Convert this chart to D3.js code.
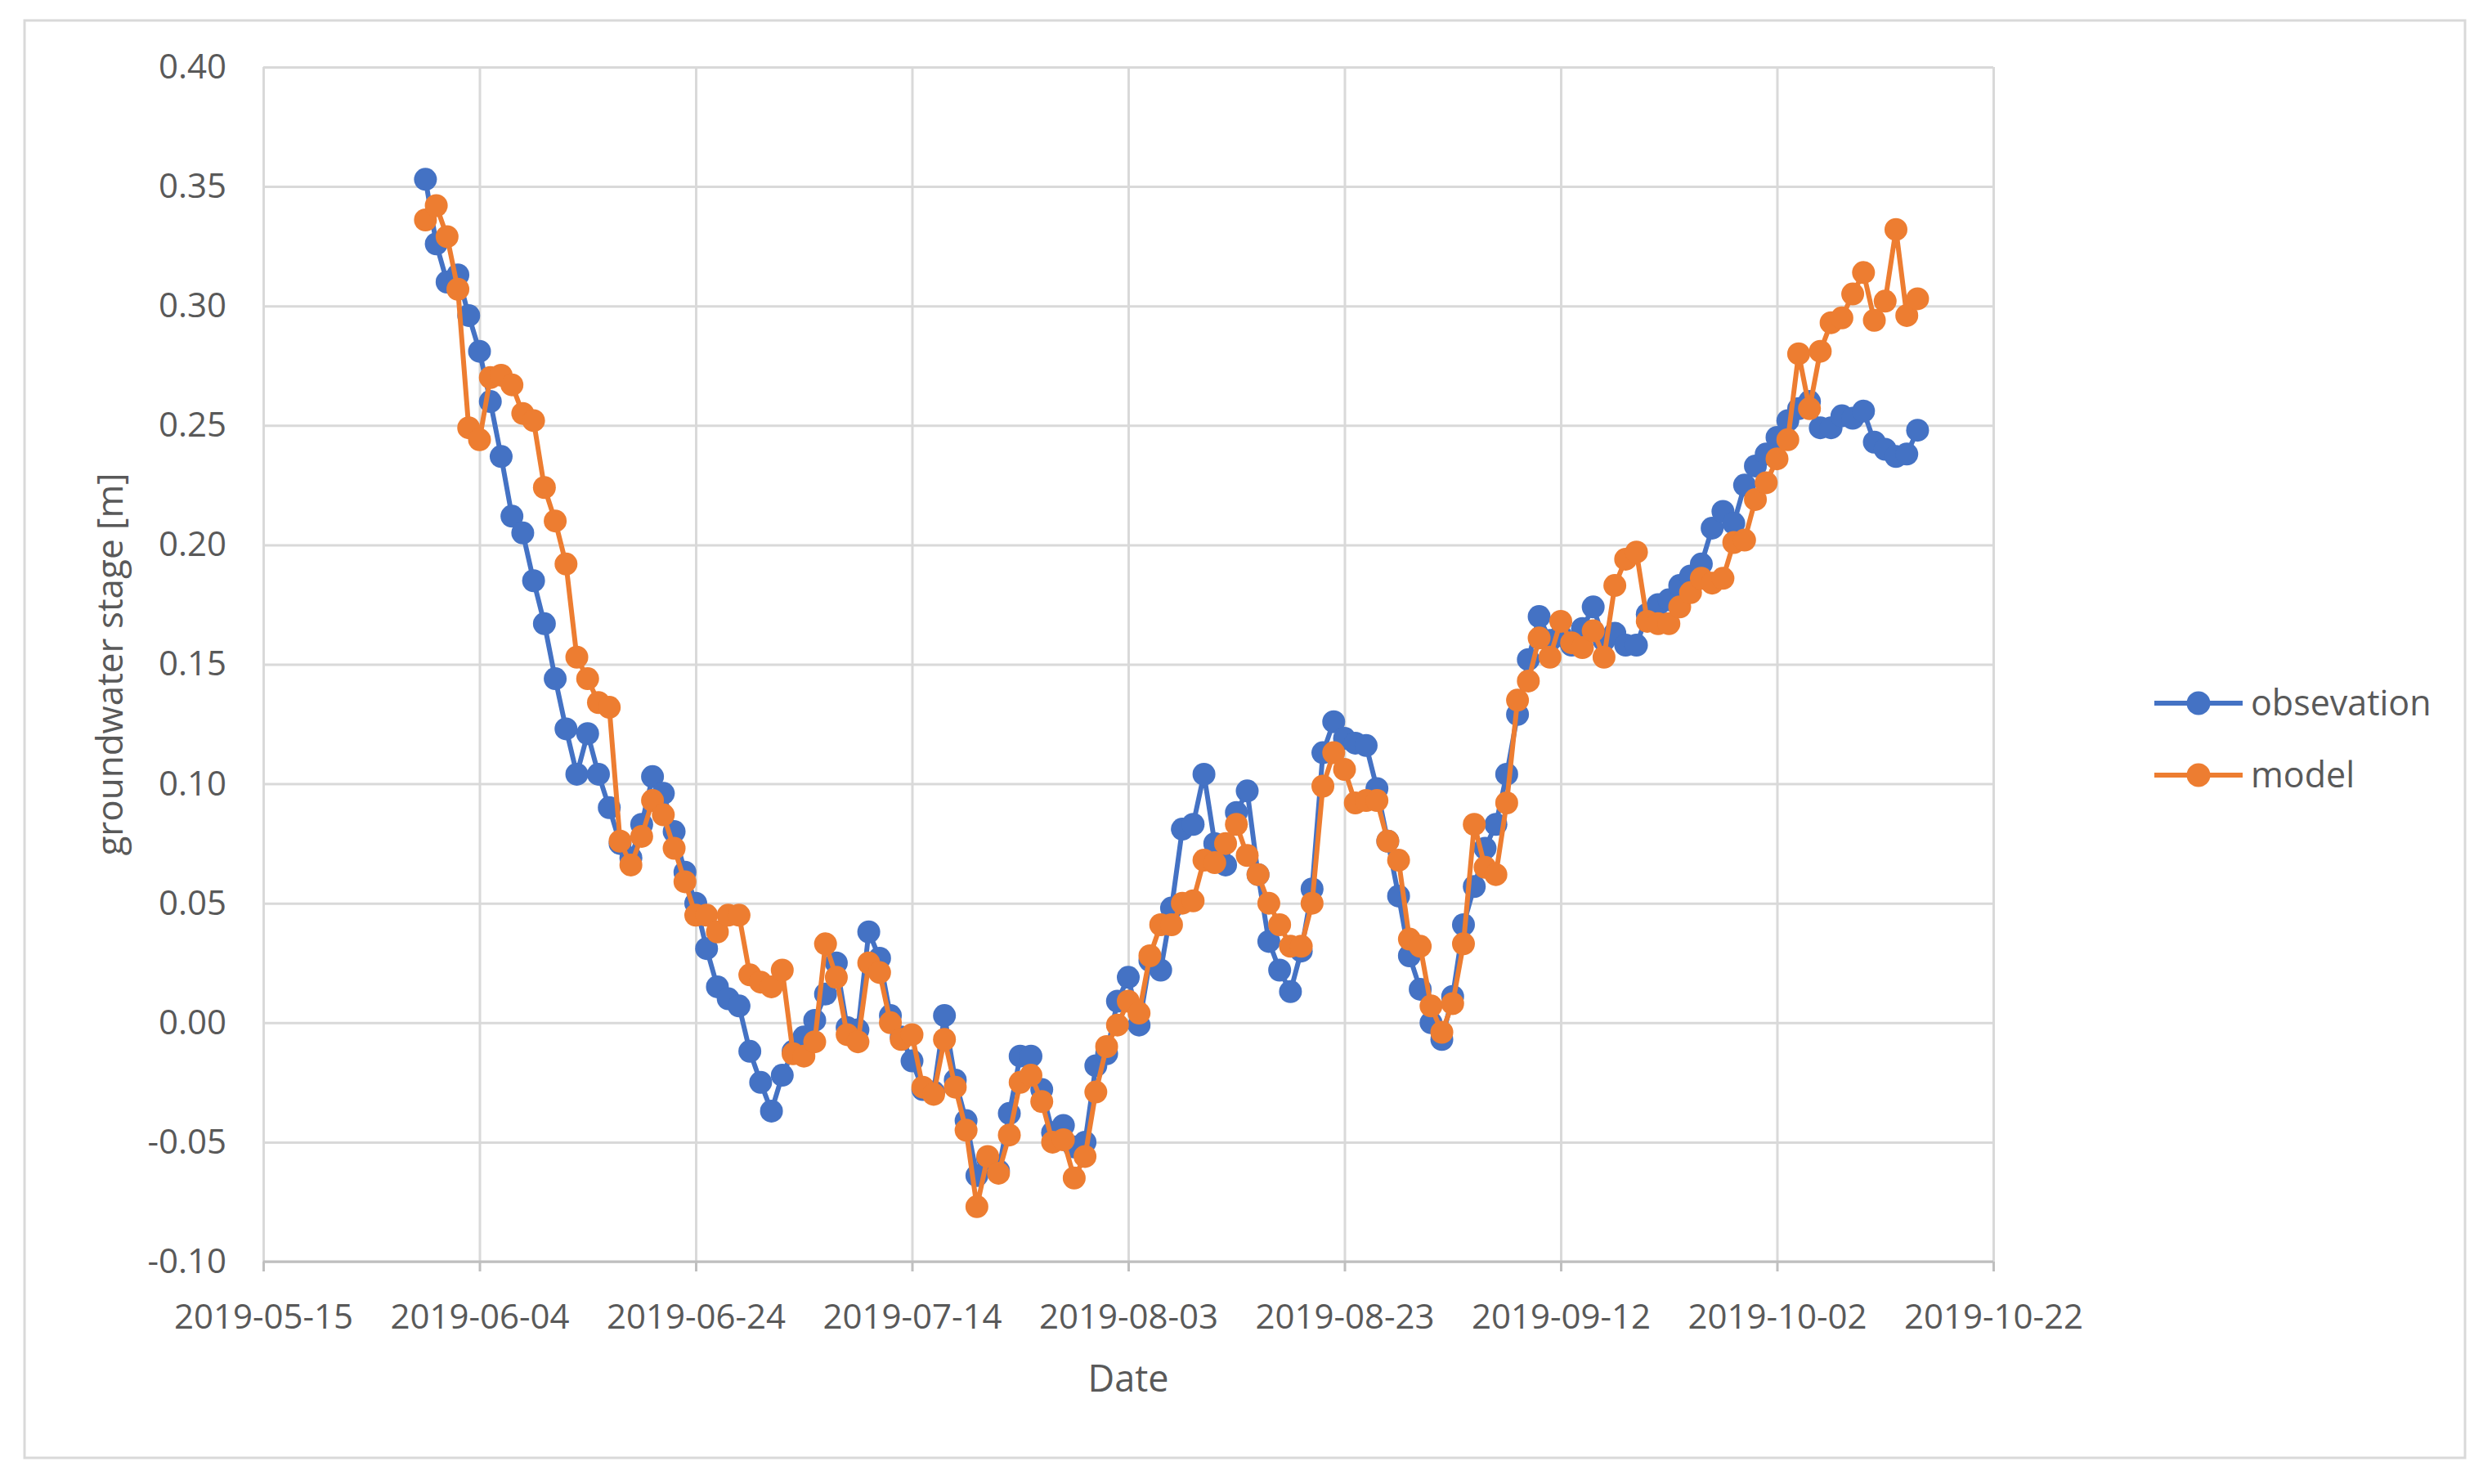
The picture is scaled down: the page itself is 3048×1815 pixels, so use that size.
<!DOCTYPE html>
<html>
<head>
<meta charset="utf-8">
<script src="https://cdn.jsdelivr.net/npm/d3@7"></script>
<style>
  html, body { margin: 0; padding: 0; background: #ffffff; }
  svg { display: block; }
  text { font-family: "Open Sans", "Noto Sans", sans-serif; fill: #595959; }
</style>
</head>
<body>
<svg id="chart" width="3048" height="1815"></svg>
<script>
// ---------- data ----------
const dates = [
  "2019-05-30","2019-05-31",
  "2019-06-01","2019-06-02","2019-06-03","2019-06-04","2019-06-05","2019-06-06","2019-06-07","2019-06-08","2019-06-09","2019-06-10",
  "2019-06-11","2019-06-12","2019-06-13","2019-06-14","2019-06-15","2019-06-16","2019-06-17","2019-06-18","2019-06-19","2019-06-20",
  "2019-06-21","2019-06-22","2019-06-23","2019-06-24","2019-06-25","2019-06-26","2019-06-27","2019-06-28","2019-06-29","2019-06-30",
  "2019-07-01","2019-07-02","2019-07-03","2019-07-04","2019-07-05","2019-07-06","2019-07-07","2019-07-08","2019-07-09","2019-07-10",
  "2019-07-11","2019-07-12","2019-07-13","2019-07-14","2019-07-15","2019-07-16","2019-07-17","2019-07-18","2019-07-19","2019-07-20",
  "2019-07-21","2019-07-22","2019-07-23","2019-07-24","2019-07-25","2019-07-26","2019-07-27","2019-07-28","2019-07-29","2019-07-30","2019-07-31",
  "2019-08-01","2019-08-02","2019-08-03","2019-08-04","2019-08-05","2019-08-06","2019-08-07","2019-08-08","2019-08-09","2019-08-10",
  "2019-08-11","2019-08-12","2019-08-13","2019-08-14","2019-08-15","2019-08-16","2019-08-17","2019-08-18","2019-08-19","2019-08-20",
  "2019-08-21","2019-08-22","2019-08-23","2019-08-24","2019-08-25","2019-08-26","2019-08-27","2019-08-28","2019-08-29","2019-08-30","2019-08-31",
  "2019-09-01","2019-09-02","2019-09-03","2019-09-04","2019-09-05","2019-09-06","2019-09-07","2019-09-08","2019-09-09","2019-09-10",
  "2019-09-11","2019-09-12","2019-09-13","2019-09-14","2019-09-15","2019-09-16","2019-09-17","2019-09-18","2019-09-19","2019-09-20",
  "2019-09-21","2019-09-22","2019-09-23","2019-09-24","2019-09-25","2019-09-26","2019-09-27","2019-09-28","2019-09-29","2019-09-30",
  "2019-10-01","2019-10-02","2019-10-03","2019-10-04","2019-10-05","2019-10-06","2019-10-07","2019-10-08","2019-10-09","2019-10-10",
  "2019-10-11","2019-10-12","2019-10-13","2019-10-14","2019-10-15"
];

const observation = [
  0.353,0.326,0.310,0.313,0.296,0.281,0.260,0.237,0.212,0.205,
  0.185,0.167,0.144,0.123,0.104,0.121,0.104,0.090,0.075,0.069,
  0.083,0.103,0.096,0.080,0.063,0.050,0.031,0.015,0.010,0.007,
  -0.012,-0.025,-0.037,-0.022,-0.012,-0.006,0.001,0.012,0.025,-0.002,
  -0.003,0.038,0.027,0.003,-0.006,-0.016,-0.028,-0.029,0.003,-0.024,
  -0.041,-0.064,-0.057,-0.062,-0.038,-0.014,-0.014,-0.028,-0.046,-0.043,
  -0.052,-0.050,-0.018,-0.013,0.009,0.019,-0.001,0.026,0.022,0.048,
  0.081,0.083,0.104,0.075,0.066,0.088,0.097,0.062,0.034,0.022,
  0.013,0.030,0.056,0.113,0.126,0.119,0.117,0.116,0.098,0.076,
  0.053,0.028,0.014,0.000,-0.007,0.011,0.041,0.057,0.073,0.083,
  0.104,0.129,0.152,0.170,0.160,0.162,0.158,0.165,0.174,0.160,
  0.163,0.158,0.158,0.171,0.175,0.177,0.183,0.187,0.192,0.207,
  0.214,0.209,0.225,0.233,0.238,0.245,0.252,0.257,0.260,0.249,
  0.249,0.254,0.253,0.256,0.243,0.240,0.237,0.238,0.248
];

const model = [
  0.336,0.342,0.329,0.307,0.249,0.244,0.270,0.271,0.267,0.255,
  0.252,0.224,0.210,0.192,0.153,0.144,0.134,0.132,0.076,0.066,
  0.078,0.093,0.087,0.073,0.059,0.045,0.045,0.038,0.045,0.045,
  0.020,0.017,0.015,0.022,-0.013,-0.014,-0.008,0.033,0.019,-0.005,
  -0.008,0.025,0.021,0.000,-0.007,-0.005,-0.027,-0.030,-0.007,-0.027,
  -0.045,-0.077,-0.056,-0.063,-0.047,-0.025,-0.022,-0.033,-0.050,-0.049,
  -0.065,-0.056,-0.029,-0.010,-0.001,0.009,0.004,0.028,0.041,0.041,
  0.050,0.051,0.068,0.067,0.075,0.083,0.070,0.062,0.050,0.041,
  0.032,0.032,0.050,0.099,0.113,0.106,0.092,0.093,0.093,0.076,
  0.068,0.035,0.032,0.007,-0.004,0.008,0.033,0.083,0.065,0.062,
  0.092,0.135,0.143,0.161,0.153,0.168,0.159,0.157,0.164,0.153,
  0.183,0.194,0.197,0.168,0.167,0.167,0.174,0.180,0.186,0.184,
  0.186,0.201,0.202,0.219,0.226,0.236,0.244,0.280,0.257,0.281,
  0.293,0.295,0.305,0.314,0.294,0.302,0.332,0.296,0.303
];

const seriesNames = ["obsevation", "model"];
const seriesColors = ["#4472C4", "#ED7D31"];
const xTickLabels = ["2019-05-15","2019-06-04","2019-06-24","2019-07-14","2019-08-03","2019-08-23","2019-09-12","2019-10-02","2019-10-22"];
const yTickValues = [-0.10,-0.05,0.00,0.05,0.10,0.15,0.20,0.25,0.30,0.35,0.40];
const xTitle = "Date";
const yTitle = "groundwater stage [m]";

// ---------- layout ----------
const svg = d3.select("#chart");
const plot = { left: 322, right: 2438, top: 82, bottom: 1543 };
const parse = d3.utcParse("%Y-%m-%d");

const x = d3.scaleUtc()
  .domain([parse(xTickLabels[0]), parse(xTickLabels[xTickLabels.length - 1])])
  .range([plot.left, plot.right]);
const y = d3.scaleLinear()
  .domain([yTickValues[0], yTickValues[yTickValues.length - 1]])
  .range([plot.bottom, plot.top]);

// Excel-style number format with ASCII hyphen for negatives
const fmtY = v => (v < -1e-9 ? "-" : "") + Math.abs(v).toFixed(2);

// outer chart border
svg.append("rect")
  .attr("x", 30).attr("y", 25).attr("width", 2985).attr("height", 1758)
  .attr("fill", "#ffffff").attr("stroke", "#D9D9D9").attr("stroke-width", 3);

// horizontal gridlines + y labels
const yAxis = d3.axisLeft(y)
  .tickValues(yTickValues)
  .tickSize(-(plot.right - plot.left))
  .tickPadding(45)
  .tickFormat(fmtY);
const gy = svg.append("g").attr("transform", `translate(${plot.left},0)`).call(yAxis);
gy.select(".domain").remove();
gy.selectAll(".tick line").attr("stroke", "#D9D9D9").attr("stroke-width", 3);
gy.selectAll(".tick text")
  .attr("fill", "#595959").style("font-size", "42px")
  .style("font-family", "'Open Sans', 'Noto Sans', sans-serif");

// vertical gridlines + x labels
const xTicks = xTickLabels.map(parse);
const xAxis = d3.axisBottom(x)
  .tickValues(xTicks)
  .tickSize(-(plot.bottom - plot.top))
  .tickPadding(0)
  .tickFormat(d3.utcFormat("%Y-%m-%d"));
const gx = svg.append("g").attr("transform", `translate(0,${plot.bottom})`).call(xAxis);
gx.select(".domain").remove();
gx.selectAll(".tick line").attr("stroke", "#D9D9D9").attr("stroke-width", 3);
gx.selectAll(".tick text")
  .attr("y", 82).attr("dy", 0)
  .attr("fill", "#595959").style("font-size", "42px")
  .style("font-family", "'Open Sans', 'Noto Sans', sans-serif");
// small outward tick marks
gx.selectAll(".tick").append("line")
  .attr("y1", 0).attr("y2", 12)
  .attr("stroke", "#BFBFBF").attr("stroke-width", 3);
// bottom axis line
svg.append("line")
  .attr("x1", plot.left).attr("x2", plot.right)
  .attr("y1", plot.bottom).attr("y2", plot.bottom)
  .attr("stroke", "#BFBFBF").attr("stroke-width", 3);

// axis titles
svg.append("text")
  .attr("x", (plot.left + plot.right) / 2).attr("y", 1702)
  .attr("text-anchor", "middle")
  .style("font-size", "45px")
  .text(xTitle);
svg.append("text")
  .attr("transform", `translate(150,${(plot.top + plot.bottom) / 2}) rotate(-90)`)
  .attr("text-anchor", "middle")
  .style("font-size", "44px")
  .text(yTitle);

// ---------- series ----------
const series = [observation, model].map((vals, i) => ({
  name: seriesNames[i],
  color: seriesColors[i],
  points: vals.map((v, j) => ({ date: parse(dates[j]), value: v }))
}));

const line = d3.line().x(d => x(d.date)).y(d => y(d.value));

series.forEach(s => {
  const g = svg.append("g");
  g.append("path")
    .datum(s.points)
    .attr("d", line)
    .attr("fill", "none")
    .attr("stroke", s.color)
    .attr("stroke-width", 6)
    .attr("stroke-linejoin", "round");
  g.selectAll("circle")
    .data(s.points)
    .join("circle")
    .attr("cx", d => x(d.date))
    .attr("cy", d => y(d.value))
    .attr("r", 14)
    .attr("fill", s.color);
});

// ---------- legend ----------
const legend = svg.append("g");
series.forEach((s, i) => {
  const ly = 860 + i * 88;
  legend.append("line")
    .attr("x1", 2635).attr("x2", 2743).attr("y1", ly).attr("y2", ly)
    .attr("stroke", s.color).attr("stroke-width", 6);
  legend.append("circle")
    .attr("cx", 2689).attr("cy", ly).attr("r", 14.5).attr("fill", s.color);
  legend.append("text")
    .attr("x", 2753).attr("y", ly).attr("dy", "0.35em")
    .style("font-size", "43px")
    .text(s.name);
});
</script>
</body>
</html>
